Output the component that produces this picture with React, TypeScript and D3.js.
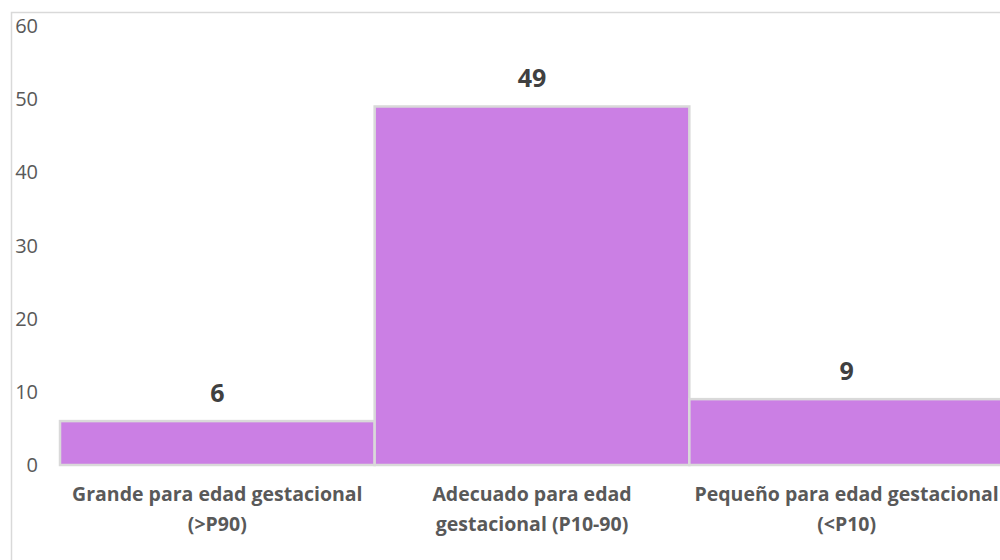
import React from "react";
import * as d3 from "d3";

const categories: string[][] = [
  ["Grande para edad gestacional", "(>P90)"],
  ["Adecuado para edad", "gestacional (P10-90)"],
  ["Pequeño para edad gestacional", "(<P10)"],
];
const values: number[] = [6, 49, 9];
const yTicks: number[] = [0, 10, 20, 30, 40, 50, 60];

const W = 1000;
const H = 560;
const font = "'Open Sans', sans-serif";

export default function App() {
  const x = d3
    .scaleBand<number>()
    .domain(values.map((_, i) => i))
    .range([60, 1004])
    .paddingInner(0)
    .paddingOuter(0);
  const y = d3.scaleLinear().domain([0, 60]).range([465, 26]);

  return (
    <svg
      width={W}
      height={H}
      style={{ position: "absolute", left: 0, top: 0, background: "#fff" }}
    >
      <rect x={11.5} y={12.5} width={W} height={H} fill="#fff" stroke="#d9d9d9" strokeWidth={1.5} />
      {yTicks.map((t) => (
        <text
          key={t}
          x={38}
          y={y(t) + 7}
          textAnchor="end"
          fontFamily={font}
          fontSize={20}
          fill="#595959"
        >
          {t}
        </text>
      ))}
      {values.map((v, i) => (
        <g key={i}>
          <rect
            x={x(i)!}
            y={y(v)}
            width={x.bandwidth()}
            height={y(0) - y(v)}
            fill="#cb7fe4"
            stroke="#d9d9d9"
            strokeWidth={2.5}
          />
          <text
            x={x(i)! + x.bandwidth() / 2}
            y={y(v) - 19}
            textAnchor="middle"
            fontFamily={font}
            fontWeight="bold"
            fontSize={25}
            fill="#404040"
          >
            {v}
          </text>
          {categories[i].map((line, j) => (
            <text
              key={j}
              x={x(i)! + x.bandwidth() / 2}
              y={501 + j * 30}
              textAnchor="middle"
              fontFamily={font}
              fontWeight="bold"
              fontSize={19.5}
              fill="#595959"
            >
              {line}
            </text>
          ))}
        </g>
      ))}
    </svg>
  );
}
